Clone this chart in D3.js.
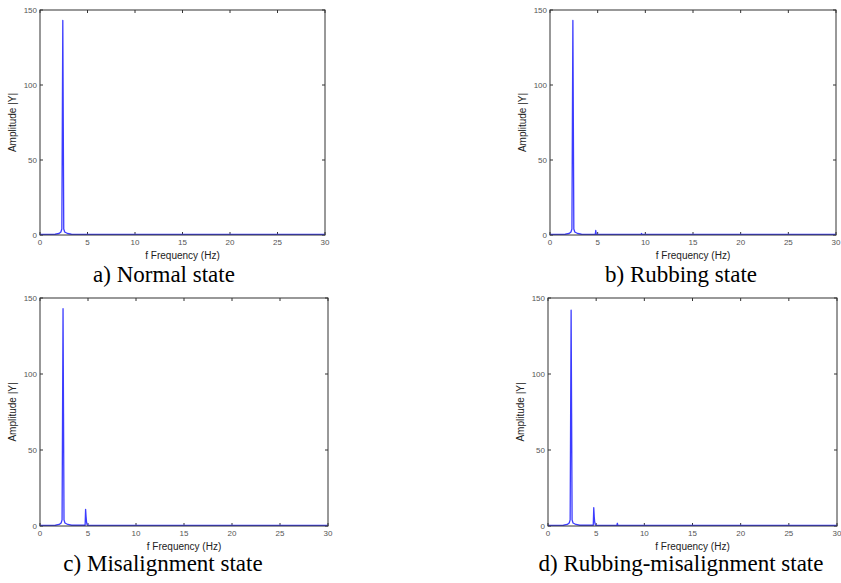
<!DOCTYPE html>
<html>
<head>
<meta charset="utf-8">
<script src="https://cdn.jsdelivr.net/npm/d3@7"></script>
<style>
  body { margin: 0; background: #fff; }
  svg { display: block; }
</style>
</head>
<body>
<div id="chart"></div>
<script>
// spectra: frequency (Hz) and amplitude |Y|
const freqNormal = [0, 1.6, 2.0, 2.2, 2.3, 2.35, 2.4, 2.45, 2.5, 2.6, 2.9, 3.3, 30];
const ampNormal  = [0.4, 0.5, 1.0, 2.0, 4.0, 74, 143, 74, 4.0, 2.0, 1.0, 0.5, 0.4];

const freqRubbing = [0, 1.6, 2.0, 2.2, 2.3, 2.35, 2.4, 2.45, 2.5, 2.6, 2.9, 3.3, 4.75, 4.8, 4.85, 9.55, 9.6, 9.65, 30];
const ampRubbing  = [0.4, 0.5, 1.0, 2.0, 4.0, 74, 143, 74, 4.0, 2.0, 1.0, 0.5, 0.4, 3.0, 0.4, 0.4, 1.0, 0.4, 0.4];

const freqMisalign = [0, 1.6, 2.0, 2.2, 2.3, 2.35, 2.4, 2.45, 2.5, 2.6, 2.9, 3.3, 4.7, 4.75, 4.8, 4.85, 4.9, 5.0, 30];
const ampMisalign  = [0.4, 0.5, 1.0, 2.0, 4.0, 74, 143, 74, 4.0, 2.0, 1.0, 0.5, 0.5, 11, 6, 2.5, 1.0, 0.4, 0.4];

const freqRubMis = [0, 1.6, 2.0, 2.2, 2.3, 2.35, 2.4, 2.45, 2.5, 2.6, 2.9, 3.3, 4.7, 4.75, 4.8, 4.85, 4.9, 5.0, 7.15, 7.2, 7.25, 30];
const ampRubMis  = [0.4, 0.5, 1.0, 2.0, 4.0, 74, 142, 74, 4.0, 2.0, 1.0, 0.5, 0.5, 12, 6, 2.5, 1.0, 0.4, 0.4, 1.8, 0.4, 0.4];

const xTicks = [0, 5, 10, 15, 20, 25, 30];
const yTicks = [0, 50, 100, 150];
const captions = ["a) Normal state", "b) Rubbing state", "c) Misalignment state", "d) Rubbing-misalignment state"];

const W = 841, H = 583;
const svg = d3.select("#chart").append("svg")
    .attr("width", W)
    .attr("height", H);

// panel boxes in page pixels
const panels = [
    { x0: 40, x1: 325, y0: 10, y1: 235, capX: 164, capY: 282, f: freqNormal, a: ampNormal },
    { x0: 550, x1: 836, y0: 10, y1: 235, capX: 681, capY: 282, f: freqRubbing, a: ampRubbing },
    { x0: 40, x1: 328, y0: 298, y1: 526, capX: 163, capY: 571, f: freqMisalign, a: ampMisalign },
    { x0: 548, x1: 837, y0: 298, y1: 526, capX: 681, capY: 571, f: freqRubMis, a: ampRubMis }
];

const sans = "Arial, 'Liberation Sans', sans-serif";

panels.forEach(function (p, i) {
    const x = d3.scaleLinear().domain([0, 30]).range([p.x0, p.x1]);
    const y = d3.scaleLinear().domain([0, 150]).range([p.y1, p.y0]);
    const g = svg.append("g");

    // ticks on all four sides (matlab box)
    xTicks.forEach(function (t) {
        g.append("line").attr("x1", x(t)).attr("x2", x(t))
            .attr("y1", p.y1).attr("y2", p.y1 - 3).attr("stroke", "#333");
        g.append("line").attr("x1", x(t)).attr("x2", x(t))
            .attr("y1", p.y0).attr("y2", p.y0 + 3).attr("stroke", "#333");
        g.append("text").attr("x", x(t)).attr("y", p.y1 + 10)
            .attr("text-anchor", "middle")
            .attr("font-family", sans)
            .attr("font-size", 8).attr("fill", "#555")
            .text(t);
    });
    yTicks.forEach(function (t) {
        g.append("line").attr("x1", p.x0).attr("x2", p.x0 + 3)
            .attr("y1", y(t)).attr("y2", y(t)).attr("stroke", "#333");
        g.append("line").attr("x1", p.x1).attr("x2", p.x1 - 3)
            .attr("y1", y(t)).attr("y2", y(t)).attr("stroke", "#333");
        g.append("text").attr("x", p.x0 - 3).attr("y", y(t) + 3)
            .attr("text-anchor", "end")
            .attr("font-family", sans)
            .attr("font-size", 8).attr("fill", "#555")
            .text(t);
    });

    // spectrum
    const pts = p.f.map(function (d, k) { return [d, p.a[k]]; });
    const line = d3.line().x(function (d) { return x(d[0]); }).y(function (d) { return y(d[1]); });
    g.append("path").datum(pts)
        .attr("d", line)
        .attr("fill", "none")
        .attr("stroke", "#3c3cff")
        .attr("stroke-width", 1.3)
        .attr("stroke-linejoin", "round");

    // box
    g.append("rect").attr("x", p.x0).attr("y", p.y0)
        .attr("width", p.x1 - p.x0).attr("height", p.y1 - p.y0)
        .attr("fill", "none").attr("stroke", "#333").attr("stroke-width", 1);

    // axis labels
    g.append("text")
        .attr("x", (p.x0 + p.x1) / 2).attr("y", p.y1 + 24)
        .attr("text-anchor", "middle")
        .attr("font-family", sans)
        .attr("font-size", 10).attr("fill", "#222")
        .text("f Frequency (Hz)");
    g.append("text")
        .attr("transform", "translate(" + (p.x0 - 24) + "," + ((p.y0 + p.y1) / 2) + ") rotate(-90)")
        .attr("text-anchor", "middle")
        .attr("font-family", sans)
        .attr("font-size", 10).attr("fill", "#222")
        .text("Amplitude |Y|");

    // caption
    g.append("text")
        .attr("x", p.capX).attr("y", p.capY)
        .attr("text-anchor", "middle")
        .attr("font-family", "'Times New Roman', 'Liberation Serif', serif")
        .attr("font-size", 23).attr("fill", "#000")
        .text(captions[i]);
});
</script>
</body>
</html>
